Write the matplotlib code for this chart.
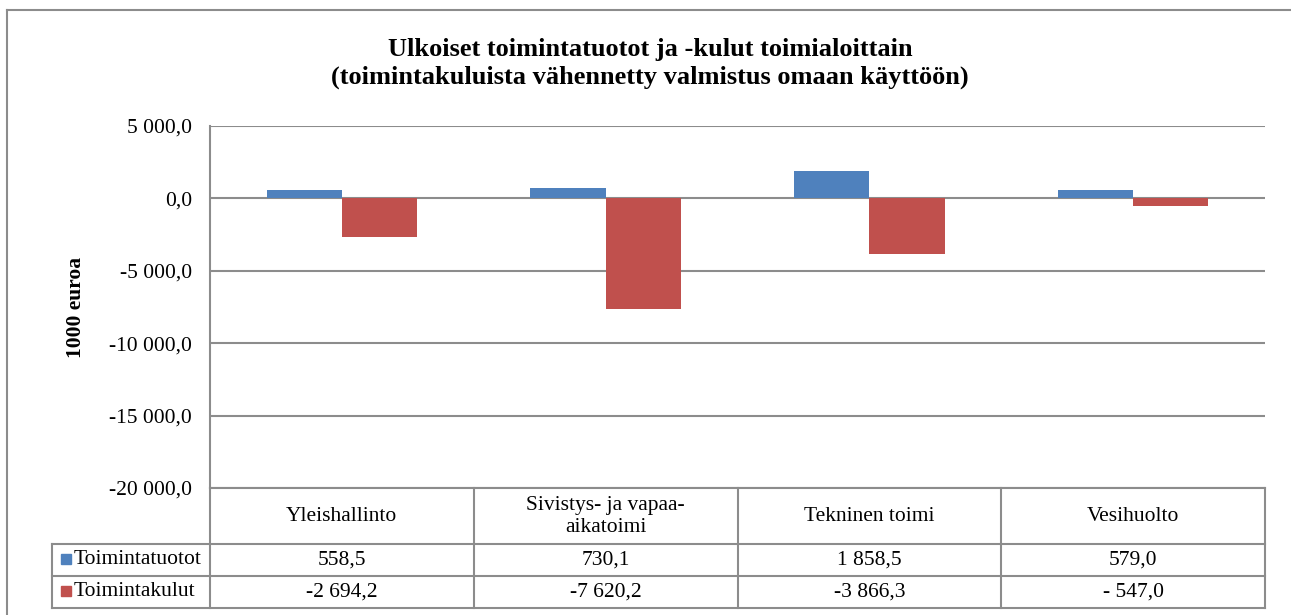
import matplotlib
matplotlib.use("Agg")
import matplotlib.pyplot as plt
from matplotlib.lines import Line2D

plt.rcParams['font.family'] = ['Liberation Serif', 'DejaVu Serif']

categories = ["Yleishallinto", "Sivistys- ja vapaa-\naikatoimi", "Tekninen toimi", "Vesihuolto"]
series_names = ["Toimintatuotot", "Toimintakulut"]
tuotot = [558.5, 730.1, 1858.5, 579.0]
kulut = [-2694.2, -7620.2, -3866.3, -547.0]
colors = ["#4F81BD", "#C0504D"]
yticks = [5000, 0, -5000, -10000, -15000, -20000]

title = "Ulkoiset toimintatuotot ja -kulut toimialoittain\n(toimintakuluista vähennetty valmistus omaan käyttöön)"
ylabel = "1000 euroa"


def fmt(v):
    s = f"{abs(v):,.1f}".replace(",", " ").replace(".", ",")
    if v < 0:
        # Excel number format leaves a space for small negatives
        return ("- " if abs(v) < 1000 else "-") + s
    return s


W, H = 1291, 615
fig = plt.figure(figsize=(W / 100, H / 100), dpi=100)
grid_c = "#8C8C8C"
fs = 15.5

# outer chart border
fig.add_artist(Line2D([7 / W, 7 / W], [0, 1 - 10 / H], transform=fig.transFigure, color=grid_c, lw=1.5))
fig.add_artist(Line2D([7 / W, 1], [1 - 10 / H, 1 - 10 / H], transform=fig.transFigure, color=grid_c, lw=1.5))

ax = fig.add_axes([210 / W, (H - 488) / H, (1265 - 210) / W, (488 - 126) / H])
x = range(len(categories))
w = 0.285
ax.bar([i - w / 2 for i in x], tuotot, width=w, color=colors[0], zorder=3)
ax.bar([i + w / 2 for i in x], kulut, width=w, color=colors[1], zorder=3)
ax.set_xlim(-0.5, 3.5)
ax.set_ylim(-20000, 5000)
ax.set_yticks(yticks)
ax.set_yticklabels([fmt(v) for v in yticks], fontsize=fs)
ax.tick_params(axis='y', length=0, pad=13)
ax.set_xticks([])
ax.grid(axis='y', color=grid_c, lw=1.5, zorder=0)
for s in ["top", "right", "bottom"]:
    ax.spines[s].set_visible(False)
ax.spines["left"].set_color(grid_c)
ax.spines["left"].set_linewidth(1.5)
ax.set_ylabel(ylabel, fontsize=fs, fontweight="bold", va="center")
ax.yaxis.set_label_coords((76 - 210) / 1055, 0.5)

fig.text(650 / W, 1 - 63.5 / H, title, ha="center", va="center", fontsize=19,
         fontweight="bold", linespacing=1.25)

# data table below the plot
tax = fig.add_axes([210 / W, (H - 608) / H, (1265 - 210) / W, 120 / H])
tax.set_xlim(-0.5, 3.5)
tax.set_ylim(120, 0)
tax.axis("off")
lx = -0.5 - (210 - 52) / 263.75
lk = dict(color=grid_c, lw=1.5, clip_on=False)
tax.plot([-0.5, 3.5], [0, 0], **lk)
tax.plot([lx, 3.5], [56, 56], **lk)
tax.plot([lx, 3.5], [88, 88], **lk)
tax.plot([lx, 3.5], [120, 120], **lk)
tax.plot([lx, lx], [56, 120], **lk)
for b in [-0.5, 0.5, 1.5, 2.5, 3.5]:
    tax.plot([b, b], [0, 120], **lk)

for i, c in enumerate(categories):
    tax.text(i, 28.5, c, ha="center", va="center", fontsize=fs, linespacing=1.2)
rows = [tuotot, kulut]
for r, (name, vals) in enumerate(zip(series_names, rows)):
    yc = 72 + 32 * r
    tax.plot([-0.5 - 144 / 263.75], [yc - 1.5], marker="s", ms=7, color=colors[r], clip_on=False)
    tax.text(-0.5 - 136 / 263.75, yc, name, ha="left", va="center", fontsize=fs)
    for i, v in enumerate(vals):
        tax.text(i, yc, fmt(v), ha="center", va="center", fontsize=fs)

fig.savefig("out.png", dpi=100)
